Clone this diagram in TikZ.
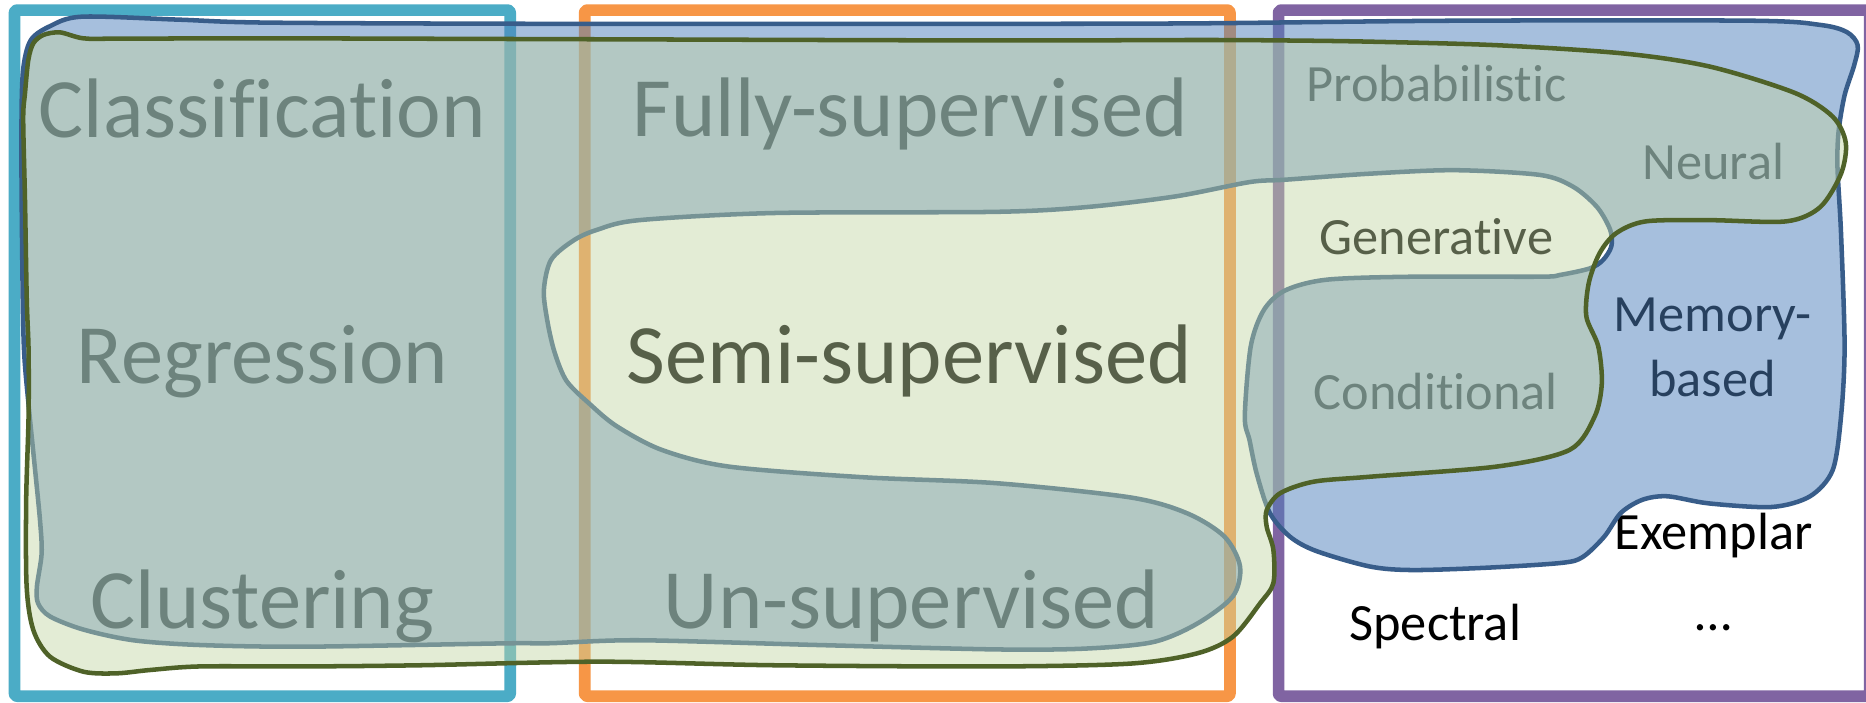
\documentclass[tikz,border=0pt]{standalone}
\usepackage{fontspec}
\setmainfont{Carlito}[Ligatures=CommonOff]
\definecolor{cyanR}{RGB}{75,172,198}
\definecolor{orangeR}{RGB}{247,150,70}
\definecolor{purpleR}{RGB}{128,100,162}
\definecolor{blueF}{RGB}{79,129,189}
\definecolor{blueL}{RGB}{56,93,138}
\definecolor{greenF}{RGB}{195,213,164}
\definecolor{oliveL}{RGB}{79,98,40}
\newcommand\bigtxt{\fontsize{71}{80}\selectfont}
\newcommand\smalltxt{\fontsize{44}{50}\selectfont}
\tikzset{
  framebox/.style={line width=9.8pt, line join=round, rounded corners=2pt},
  bigword/.style={anchor=base, inner sep=0pt, font=\bigtxt, text=black},
  smallword/.style={anchor=base, inner sep=0pt, font=\smalltxt, text=black},
  blueblob/.style={fill=blueF, fill opacity=0.5, draw=blueL, line width=3.8pt},
  greenblob/.style={fill=greenF, fill opacity=0.45, draw=oliveL, line width=3.8pt},
}
\begin{document}
\begin{tikzpicture}[x=1pt,y=-1pt]
\useasboundingbox (0,0) rectangle (1568,590);
\fill[white] (0,0) rectangle (1568,590);
% frames
\draw[framebox, cyanR] (12.2,8.5) rectangle (428.7,585);
\draw[framebox, orangeR] (491.3,8.5) rectangle (1033.5,585);
\draw[framebox, purpleR] (1074.4,8.5) rectangle (1571,585);
% texts
\node[bigword] (cls) at (220.5,115.4) {Classification};
\node[bigword] (reg) at (220.5,322) {Regression};
\node[bigword] (clu) at (220.5,528) {Clustering};
\node[bigword] (full) at (765,115) {Fully-supervised};
\node[bigword] (semi) at (764,322) {Semi-supervised};
\node[bigword] (uns) at (766,528) {Un-supervised};
\node[smallword] (prob) at (1207.3,85.4) {Probabilistic};
\node[smallword] (neur) at (1439.7,151) {Neural};
\node[smallword] (gen) at (1207,214) {Generative};
\node[smallword] (mem) at (1439,278.7) {Memory-};
\node[smallword] (based) at (1439,333) {based};
\node[smallword] (cond) at (1206.5,344.5) {Conditional};
\node[smallword] (exem) at (1440,462) {Exemplar};
\node[smallword] (spec) at (1206,538) {Spectral};
\node[smallword] (dots) at (1440,530) {…};
% blue blob
\path[blueblob] plot[smooth cycle, tension=0.5] coordinates {
 (69,14) (150,16.5) (225,19) (462,20) (837,20) (1008,19.6) (1222,17.4) (1472,17.4)
 (1530,21) (1552,27) (1561,38) (1558,55) (1550,80) (1545,110) (1544,140) (1547,196)
 (1550,291) (1547,350) (1540,395) (1521,417) (1489,426) (1436,423) (1401,417) (1380,420)
 (1362,431) (1348,451) (1330,468) (1312,473) (1250,477) (1187,479) (1151,476) (1106,463)
 (1084,451) (1067,431) (1056,398) (1050,370) (1046,350) (1051,291) (1062,260.5) (1080,244)
 (1115,235) (1187,232.5) (1294,232.5) (1311,231) (1336,225.5) (1347,218.5) (1354,207)
 (1353,193) (1342,174) (1322,157) (1294,147) (1222,143) (1150,146) (1080,151) (1050,153)
 (988,165) (913,174) (837,178) (650,179) (537,185) (502,193) (482,202) (463,218.5)
 (457,244) (460,270) (466,296) (476,320) (495,339) (518,358) (556,378) (612,392)
 (725,401) (837,406) (950,418) (998,431.5) (1029,451) (1042,476) (1036,501) (1006,524)
 (969,539.5) (912,545) (837,545.7) (687,542) (537,538) (462,540.5) (424,540.6) (257,543.4)
 (168,542) (112,538) (70,529) (42,518) (32,507) (31,493) (35,465) (33.6,437)
 (29,390) (24,340) (20,290) (18.5,200) (18,112) (19.3,60) (25.7,34) (42,22)};
% green blob
\path[greenblob] plot[smooth cycle, tension=0.5] coordinates {
 (70,32.2) (50.4,27.2) (36.4,29.4) (28,36.4) (23.8,50.4) (21,78.4) (19.5,100) (21,168)
 (22.5,252) (24,294) (24,350) (22,420) (22.4,493) (28,529.4) (42,551.8) (70,564.4)
 (98,565.8) (126,563) (168,560) (257,560) (354,559) (504,556) (650,559) (837,560)
 (950,557.6) (1006,549) (1036,535) (1058.8,507) (1070,490) (1070,462) (1064.4,442.6)
 (1064.4,428.6) (1075.6,414.5) (1103.6,404.8) (1151,400.6) (1258,392) (1319,378)
 (1340,350) (1346,322) (1343,291) (1333,266) (1335,238) (1344,213) (1358,196) (1383,186)
 (1437,185) (1501,186) (1529.5,174) (1547,146) (1551,120) (1540,98) (1508,78) (1437,56)
 (1365,45) (1258,38) (1151,35) (1080,34) (1008,33.6) (837,34) (504,33) (225,32.2) (100,32.5)};
\end{tikzpicture}
\end{document}
